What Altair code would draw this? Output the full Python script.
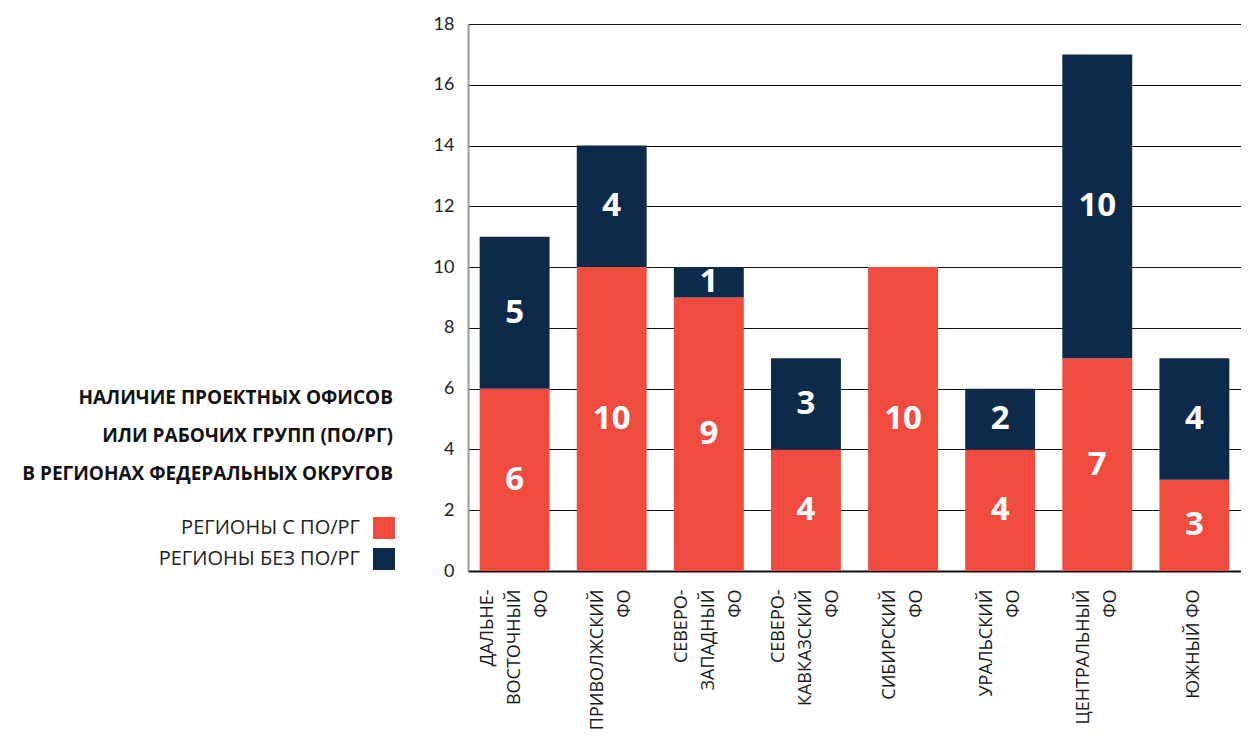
import altair as alt
import pandas as pd

categories = [
    "ДАЛЬНЕ-|ВОСТОЧНЫЙ|ФО",
    "ПРИВОЛЖСКИЙ|ФО",
    "СЕВЕРО-|ЗАПАДНЫЙ|ФО",
    "СЕВЕРО-|КАВКАЗСКИЙ|ФО",
    "СИБИРСКИЙ|ФО",
    "УРАЛЬСКИЙ|ФО",
    "ЦЕНТРАЛЬНЫЙ|ФО",
    "ЮЖНЫЙ ФО",
]
with_po = [6, 10, 9, 4, 10, 4, 7, 3]
without_po = [5, 4, 1, 3, 0, 2, 10, 4]
series = ["РЕГИОНЫ С ПО/РГ", "РЕГИОНЫ БЕЗ ПО/РГ"]
colors = ["#F04B3F", "#0E2A4B"]
title_lines = [
    "НАЛИЧИЕ ПРОЕКТНЫХ ОФИСОВ",
    "ИЛИ РАБОЧИХ ГРУПП (ПО/РГ)",
    "В РЕГИОНАХ ФЕДЕРАЛЬНЫХ ОКРУГОВ",
]
y_ticks = [0, 2, 4, 6, 8, 10, 12, 14, 16, 18]

rows = []
for i, c in enumerate(categories):
    rows.append({"cat": c, "series": series[0], "ord": 0, "v": with_po[i]})
    rows.append({"cat": c, "series": series[1], "ord": 1, "v": without_po[i]})
df = pd.DataFrame(rows)

W, H = 773, 547
FONT = "Open Sans"
LINE_H = 27

color_scale = alt.Scale(domain=series, range=colors)
x_enc = alt.X(
    "cat:N",
    sort=categories,
    title=None,
    scale=alt.Scale(paddingInner=0.28, paddingOuter=0.12),
    axis=alt.Axis(
        labelAngle=-90,
        labelExpr="split(datum.label, '|')",
        labelFont=FONT,
        labelFontSize=18,
        labelColor="#1a1a1a",
        labelLineHeight=LINE_H,
        labelPadding=18,
        labelBaseline="middle",
        labelAlign="right",
        labelOffset={
            "expr": f"-(length(split(datum.value, '|')) - 1) * {LINE_H / 2}"
        },
        ticks=False,
        domainColor="#111111",
        domainWidth=2,
        grid=False,
        labelLimit=400,
    ),
)

base = alt.Chart(df)

bars = base.mark_bar().encode(
    x=x_enc,
    y=alt.Y(
        "v:Q",
        stack="zero",
        title=None,
        scale=alt.Scale(domain=[0, 18]),
        axis=alt.Axis(
            values=y_ticks,
            labelFont="Lato",
            labelFontSize=18,
            labelColor="#222222",
            labelPadding=14,
            ticks=False,
            domainColor="#999999",
            domainWidth=2,
            gridColor="#111111",
            gridWidth=1.2,
            gridOpacity=1,
        ),
    ),
    color=alt.Color("series:N", scale=color_scale, legend=None),
    order=alt.Order("ord:Q", sort="ascending"),
)

labels = (
    base.transform_stack(
        stack="v", groupby=["cat"], sort=[alt.SortField("ord", "ascending")], as_=["y0", "y1"]
    )
    .transform_calculate(mid="(datum.y0 + datum.y1) / 2")
    .transform_filter("datum.v > 0")
    .mark_text(font=FONT, fontWeight="bold", fontSize=33, color="white", baseline="middle")
    .encode(
        x=alt.X("cat:N", sort=categories),
        y=alt.Y("mid:Q"),
        text=alt.Text("v:Q"),
    )
)

title_df = pd.DataFrame({"t": [0]})
title = alt.Chart(title_df).mark_text(
    text=title_lines,
    font=FONT,
    fontWeight="bold",
    fontSize=19,
    color="#111111",
    align="right",
    baseline="middle",
    lineHeight=38,
    x=-75,
    y=374,
)

leg_df = pd.DataFrame({"label": series, "color": colors, "yy": [504, 535]})
leg_text = alt.Chart(leg_df).mark_text(
    font=FONT, fontSize=20, color="#222222", align="right", baseline="middle"
).encode(
    text="label:N",
    x=alt.value(-108),
    y=alt.Y("yy:Q", scale=None),
)
leg_sq = alt.Chart(leg_df).mark_square(size=484, opacity=1, filled=True).encode(
    x=alt.value(-84),
    y=alt.Y("yy:Q", scale=None),
    color=alt.Color("color:N", scale=None),
)

chart = (
    alt.layer(bars, labels, title, leg_text, leg_sq)
    .resolve_scale(y="shared")
    .properties(
        width=W,
        height=H,
        autosize=alt.AutoSizeParams(type="none"),
        padding={"left": 460, "top": 16, "right": 0, "bottom": 160},
    )
    .configure_view(stroke=None)
)

chart.save("out.html", embed_options={"renderer": "svg", "actions": False})
